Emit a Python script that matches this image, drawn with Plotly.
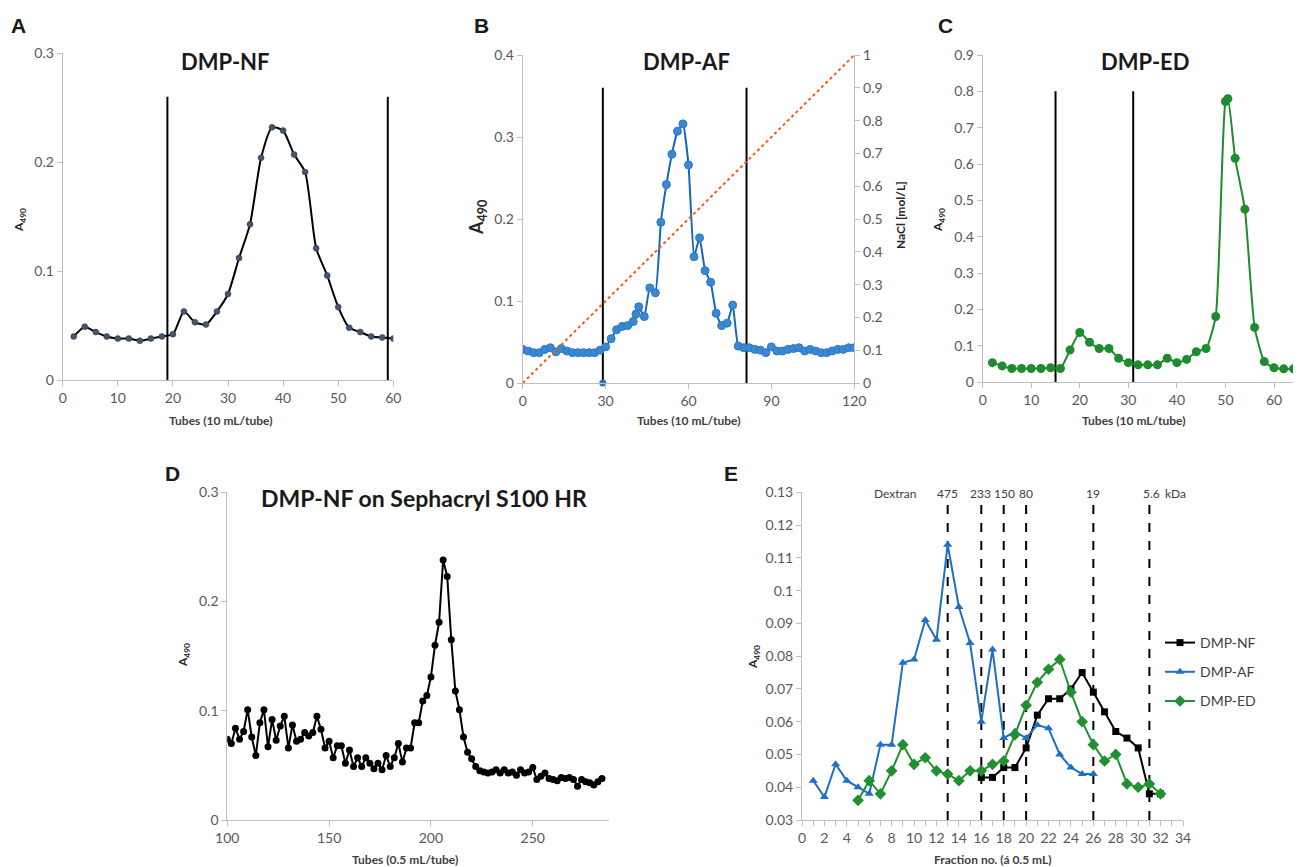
import plotly.graph_objects as go

# ---------------- DATA ----------------
# Panel A: DMP-NF
a_x = list(range(2, 61, 2))
a_y = [0.040, 0.049, 0.044, 0.040, 0.038, 0.038, 0.036, 0.038, 0.040, 0.042,
       0.063, 0.053, 0.051, 0.063, 0.079, 0.112, 0.143, 0.204, 0.232, 0.229,
       0.207, 0.191, 0.121, 0.096, 0.067, 0.048, 0.044, 0.040, 0.039, 0.038]
a_cuts = [19, 59]
a_cut_top = 0.26

# Panel B: DMP-AF
b_x = [0, 2, 4, 6, 8, 10, 12, 14, 16, 18, 20, 22, 24, 26, 28, 30, 32, 34, 36, 38,
       40, 41, 42, 44, 46, 48, 50, 52, 54, 56, 58, 60, 62, 64, 66, 68, 70, 72, 74, 76,
       78, 80, 82, 84, 86, 88, 90, 92, 94, 96, 98, 100, 102, 104, 106, 108, 110, 112,
       114, 116, 118, 120]
b_y = [0.041, 0.039, 0.037, 0.037, 0.041, 0.043, 0.038, 0.042, 0.039, 0.037,
       0.037, 0.037, 0.037, 0.037, 0.040, 0.044, 0.054, 0.065, 0.069, 0.070,
       0.075, 0.084, 0.093, 0.081, 0.116, 0.110, 0.196, 0.242, 0.279, 0.307,
       0.316, 0.266, 0.154, 0.177, 0.137, 0.123, 0.085, 0.070, 0.073, 0.095,
       0.045, 0.043, 0.043, 0.041, 0.040, 0.037, 0.044, 0.039, 0.039, 0.041,
       0.042, 0.043, 0.039, 0.041, 0.039, 0.037, 0.037, 0.039, 0.041, 0.041,
       0.043, 0.043]
b_stray_x = [29]
b_stray_y = [0.0]
nacl_x = [0, 120]
nacl_y = [0, 1]
b_cuts = [29, 81]
b_cut_top = 0.36

# Panel C: DMP-ED
c_x = [2, 4, 6, 8, 10, 12, 14, 16, 18, 20, 22, 24, 26, 28, 30, 32, 34, 36, 38, 40,
       42, 44, 46, 48, 50, 50.5, 52, 54, 56, 58, 60, 62, 64, 66]
c_y = [0.054, 0.045, 0.038, 0.038, 0.038, 0.038, 0.040, 0.038, 0.089, 0.137,
       0.110, 0.093, 0.093, 0.066, 0.054, 0.048, 0.048, 0.048, 0.066, 0.054,
       0.063, 0.084, 0.093, 0.181, 0.772, 0.780, 0.616, 0.476, 0.151, 0.057,
       0.040, 0.037, 0.037, 0.037]
c_cuts = [15, 31]
c_cut_top = 0.80

# Panel D: DMP-NF on Sephacryl S100 HR
d_x = list(range(100, 285, 2))
d_y = [0.074, 0.070, 0.084, 0.074, 0.081, 0.101, 0.076, 0.059, 0.089, 0.101,
       0.067, 0.092, 0.073, 0.086, 0.095, 0.066, 0.087, 0.072, 0.074, 0.080,
       0.077, 0.080, 0.095, 0.083, 0.066, 0.072, 0.057, 0.068, 0.068, 0.052,
       0.064, 0.049, 0.057, 0.049, 0.057, 0.052, 0.047, 0.052, 0.046, 0.059,
       0.049, 0.057, 0.070, 0.053, 0.066, 0.066, 0.089, 0.089,
       0.109, 0.114, 0.131, 0.160, 0.181, 0.238, 0.223, 0.165, 0.118, 0.101,
       0.076, 0.062, 0.056, 0.049, 0.045, 0.044, 0.043, 0.044, 0.046, 0.043,
       0.046, 0.043, 0.044, 0.041, 0.046, 0.043, 0.044, 0.048, 0.037, 0.040,
       0.043, 0.038, 0.037, 0.036, 0.039, 0.038, 0.039, 0.037, 0.031, 0.037,
       0.035, 0.034, 0.032, 0.035, 0.038]

# Panel E: gel filtration fractions
e_nf_x = list(range(16, 33))
e_nf_y = [0.043, 0.043, 0.046, 0.046, 0.052, 0.062, 0.067, 0.067, 0.070, 0.075,
          0.069, 0.063, 0.057, 0.055, 0.052, 0.038, 0.038]
e_af_x = list(range(1, 27))
e_af_y = [0.042, 0.037, 0.047, 0.042, 0.040, 0.038, 0.053, 0.053, 0.078, 0.079,
          0.091, 0.085, 0.114, 0.095, 0.084, 0.060, 0.082, 0.055, 0.057, 0.055,
          0.059, 0.058, 0.050, 0.046, 0.044, 0.044]
e_ed_x = list(range(5, 33))
e_ed_y = [0.036, 0.042, 0.038, 0.045, 0.053, 0.047, 0.049, 0.045, 0.044, 0.042,
          0.045, 0.045, 0.047, 0.048, 0.056, 0.065, 0.072, 0.076, 0.079, 0.069,
          0.060, 0.053, 0.048, 0.050, 0.041, 0.040, 0.041, 0.038]
dextran_x = [13, 16, 18, 20, 26, 31]
dextran_kda = ["475", "233", "150", "80", "19", "5.6"]
dextran_label_x = [13, 15.9, 18.1, 20, 26, 31.2]
dextran_line_top = 0.127

# ---------------- STYLE ----------------
OFF = 8                      # default page margin of the html body
FW, FH = 1301 - OFF, 867 - OFF
FONT = "Lato"
AXC = "#bfbfbf"
TICKC = "#595959"


def px(x):
    return min(1.0, (x - OFF) / FW)


def py(y):
    return 1 - (y - OFF) / FH


fig = go.Figure()


def vlines(xs, top, xa, ya, dash="solid", bottom=0.0):
    for xv in xs:
        fig.add_trace(go.Scatter(x=[xv, xv], y=[bottom, top], mode="lines",
                                 line=dict(color="black", width=2, dash=dash),
                                 xaxis=xa, yaxis=ya, showlegend=False,
                                 hoverinfo="skip"))


# Panel A
vlines(a_cuts, a_cut_top, "x", "y")
fig.add_trace(go.Scatter(x=a_x, y=a_y, mode="lines+markers",
                         line=dict(color="black", width=2, shape="spline", smoothing=0.6),
                         marker=dict(size=6, color="#44546a", line=dict(color="#2b3650", width=0.5)),
                         xaxis="x", yaxis="y", showlegend=False))

# Panel B
fig.add_trace(go.Scatter(x=nacl_x, y=nacl_y, mode="lines",
                         line=dict(color="#ee5a24", width=2, dash="dot"),
                         xaxis="x2", yaxis="y3", showlegend=False))
vlines(b_cuts, b_cut_top, "x2", "y2")
fig.add_trace(go.Scatter(x=b_x, y=b_y, mode="lines+markers",
                         line=dict(color="#1565c0", width=2, shape="spline", smoothing=0.4),
                         marker=dict(size=8, color="#3a88d2", line=dict(color="#2a78c8", width=1)),
                         xaxis="x2", yaxis="y2", showlegend=False))
fig.add_trace(go.Scatter(x=b_stray_x, y=b_stray_y, mode="markers",
                         marker=dict(size=7, color="#2a78c8"),
                         xaxis="x2", yaxis="y2", showlegend=False, cliponaxis=False))

# Panel C
vlines(c_cuts, c_cut_top, "x3", "y4")
fig.add_trace(go.Scatter(x=c_x, y=c_y, mode="lines+markers",
                         line=dict(color="#1e8b2f", width=2, shape="spline", smoothing=0.5),
                         marker=dict(size=9, color="#1e8b2f"),
                         xaxis="x3", yaxis="y4", showlegend=False))

# Panel D
fig.add_trace(go.Scatter(x=d_x, y=d_y, mode="lines+markers",
                         line=dict(color="black", width=2),
                         marker=dict(size=7, color="black"),
                         xaxis="x4", yaxis="y5", showlegend=False))

# Panel E
vlines(dextran_x, dextran_line_top, "x5", "y6", dash="dash", bottom=0.03)
fig.add_trace(go.Scatter(x=e_nf_x, y=e_nf_y, mode="lines+markers", name="DMP-NF",
                         line=dict(color="black", width=2),
                         marker=dict(symbol="square", size=7, color="black"),
                         xaxis="x5", yaxis="y6", legendgroup="nf"))
fig.add_trace(go.Scatter(x=e_af_x, y=e_af_y, mode="lines+markers", name="DMP-AF",
                         line=dict(color="#1f6ec8", width=2),
                         marker=dict(symbol="triangle-up", size=8, color="#1f6ec8"),
                         xaxis="x5", yaxis="y6", legendgroup="af"))
fig.add_trace(go.Scatter(x=e_ed_x, y=e_ed_y, mode="lines+markers", name="DMP-ED",
                         line=dict(color="#21912f", width=2),
                         marker=dict(symbol="diamond", size=9, color="#21912f"),
                         xaxis="x5", yaxis="y6", legendgroup="ed"))


def axis(domain, rng, dtick, anchor, **kw):
    d = dict(domain=domain, range=rng, dtick=dtick, anchor=anchor,
             showgrid=False, zeroline=False, showline=True, linecolor=AXC,
             linewidth=1, ticks="outside", ticklen=5, tickcolor=AXC,
             automargin=False,
             tickfont=dict(family=FONT, size=14, color=TICKC))
    d.update(kw)
    return d


fig.update_layout(
    width=FW, height=FH, margin=dict(l=0, r=0, t=0, b=0, pad=0, autoexpand=False),
    paper_bgcolor="white", plot_bgcolor="white",
    font=dict(family=FONT, color="#404040"),
    xaxis=axis([px(62.7), px(393.3)], [0, 60], 10, "y"),
    yaxis=axis([py(380), py(53.3)], [0, 0.3], 0.1, "x"),
    xaxis2=axis([px(522.7), px(854.3)], [0, 120], 30, "y2"),
    yaxis2=axis([py(383), py(55)], [0, 0.4], 0.1, "x2"),
    yaxis3=axis([py(383), py(55)], [0, 1], 0.1, "x2", overlaying="y2", side="right"),
    xaxis3=axis([px(982.7), px(1301)], [0, 65.56], 10, "y4"),
    yaxis4=axis([py(382.3), py(55)], [0, 0.9], 0.1, "x3"),
    xaxis4=axis([px(227.3), px(609.3)], [100, 287.6], 50, "y5"),
    yaxis5=axis([py(820), py(492.3)], [0, 0.3], 0.1, "x4"),
    xaxis5=axis([px(802), px(1183)], [0, 34], 2, "y6",
                minor=dict(dtick=1, ticks="outside", ticklen=5, tickcolor=AXC)),
    yaxis6=axis([py(820), py(492.3)], [0.03, 0.13], 0.01, "x5"),
    legend=dict(x=px(1160), y=py(627), xanchor="left", yanchor="top",
                font=dict(family=FONT, size=14, color="#404040"),
                bgcolor="rgba(0,0,0,0)", traceorder="grouped",
                tracegroupgap=8, itemwidth=30),
)

ann = []


def text(x, y, t, size, bold=True, angle=0, color="#1a1a1a", family=FONT,
         xref="paper", yref="paper", xanchor="center"):
    s = f"<b>{t}</b>" if bold else t
    ann.append(dict(x=x, y=y, xref=xref, yref=yref, text=s, showarrow=False,
                    textangle=angle, xanchor=xanchor, yanchor="middle",
                    font=dict(family=family, size=size, color=color)))


# panel letters
for L, (lx, ly) in {"A": (18, 26), "B": (481, 26), "C": (945, 26),
                    "D": (172, 473), "E": (731, 473)}.items():
    text(px(lx), py(ly), L, 21, family="Arial")

# titles
text(px(225), py(62), "DMP-NF", 22)
text(px(686), py(62), "DMP-AF", 22)
text(px(1145), py(62), "DMP-ED", 22)
text(px(424), py(498), "DMP-NF on Sephacryl S100 HR", 23)

# x titles
text(px(220), py(420), "Tubes (10 mL/tube)", 12, color="#404040")
text(px(688), py(420), "Tubes (10 mL/tube)", 12, color="#404040")
text(px(1133), py(420), "Tubes (10 mL/tube)", 12, color="#404040")
text(px(405), py(859), "Tubes (0.5 mL/tube)", 12, color="#404040")
text(px(993), py(859), "Fraction no. (á 0.5 mL)", 12, color="#404040")

# y titles
text(px(20), py(220), "A<sub>490</sub>", 12, angle=-90, color="#262626")
text(px(477), py(218), "A<sub>490</sub>", 18, angle=-90, color="#262626")
text(px(939), py(220), "A<sub>490</sub>", 12, angle=-90, color="#262626")
text(px(183), py(655), "A<sub>490</sub>", 12, angle=-90, color="#262626")
text(px(753), py(657), "A<sub>490</sub>", 12, angle=-90, color="#262626")
text(px(900), py(215), "NaCl [mol/L]", 12, angle=-90, color="#262626")

# dextran markers
lab_font = dict(family=FONT, size=12, color="#404040")
for lx, lab in zip(dextran_label_x, dextran_kda):
    ann.append(dict(x=lx, y=py(493), xref="x5", yref="paper", text=lab,
                    showarrow=False, yanchor="middle", font=lab_font))
ann.append(dict(x=8.3, y=py(493), xref="x5", yref="paper", text="Dextran",
                showarrow=False, yanchor="middle", font=lab_font))
ann.append(dict(x=px(1188), y=py(493), xref="paper", yref="paper", text="kDa",
                showarrow=False, yanchor="middle", font=lab_font))

fig.update_layout(annotations=ann)
fig.write_html("out.html")
